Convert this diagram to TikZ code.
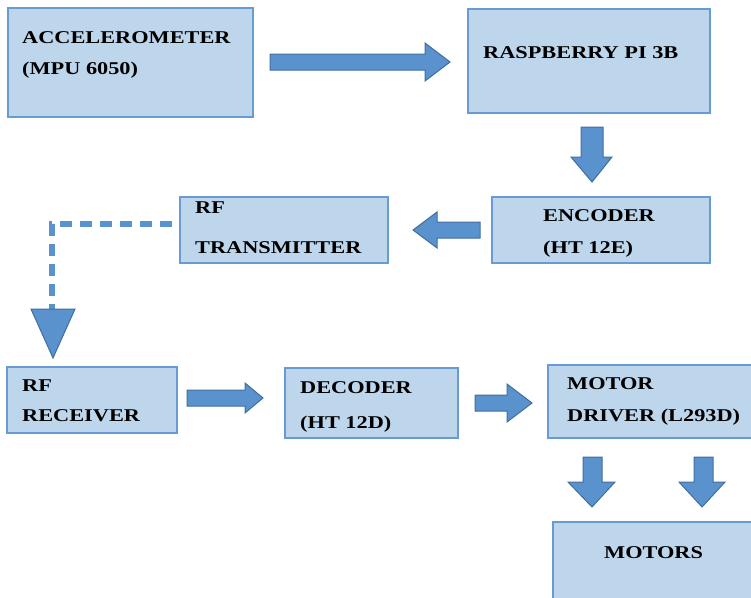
\documentclass[tikz,border=0pt]{standalone}
\usepackage{fontspec}
\newfontfamily\lblfont{Liberation Serif}[FakeStretch=1.24]
\begin{document}
\begin{tikzpicture}[x=1pt,y=-1pt,
  blockbox/.style={draw=boxline,fill=boxfill,line width=1.8pt},
  lbl/.style={anchor=base west,inner sep=0pt,font=\lblfont\bfseries\fontsize{18}{21}\selectfont,text=black},
  blockarrow/.style={draw=arrowline,fill=arrowfill,line width=1pt,line join=miter},
  linkline/.style={draw=arrowfill,line width=6pt,dash pattern=on 12pt off 8pt}]
\definecolor{boxfill}{RGB}{190,214,236}
\definecolor{boxline}{RGB}{104,155,210}
\definecolor{arrowfill}{RGB}{90,146,206}
\definecolor{arrowline}{RGB}{64,110,160}
\useasboundingbox (0,0) rectangle (751,597);

% boxes
\path[blockbox] (8,8) rectangle (253,117);
\node (acc) at (130,62) {};
\path[blockbox] (468,9) rectangle (710,113);
\node (rpi) at (589,61) {};
\path[blockbox] (492,197) rectangle (710,263);
\node (enc) at (601,230) {};
\path[blockbox] (180,197) rectangle (388,263);
\node (tx) at (284,230) {};
\path[blockbox] (7,367) rectangle (177,433);
\node (rx) at (92,400) {};
\path[blockbox] (285,368) rectangle (458,438);
\node (dec) at (371,403) {};
\path[blockbox] (548,365) rectangle (760,438);
\node (drv) at (650,401) {};
\path[blockbox] (553,522) rectangle (760,605);
\node (mot) at (650,560) {};

% labels
\node[lbl] (accA) at (22,43) {ACCELEROMETER};
\node[lbl] (accB) at (22,74) {(MPU 6050)};
\node[lbl] (rpiA) at (483,58) {RASPBERRY PI 3B};
\node[lbl] (encA) at (543,221) {ENCODER};
\node[lbl] (encB) at (543,253) {(HT 12E)};
\node[lbl] (txA) at (195,213) {RF};
\node[lbl] (txB) at (195,253) {TRANSMITTER};
\node[lbl] (rxA) at (22,391) {RF};
\node[lbl] (rxB) at (22,421) {RECEIVER};
\node[lbl] (decA) at (300,393) {DECODER};
\node[lbl] (decB) at (300,428) {(HT 12D)};
\node[lbl] (drvA) at (567,389) {MOTOR};
\node[lbl] (drvB) at (567,421) {DRIVER (L293D)};
\node[lbl] (motA) at (604,558) {MOTORS};

% block arrows
\path[blockarrow] (270,54) -- (425,54) -- (425,43) -- (450,62) -- (425,81) -- (425,70) -- (270,70) -- cycle;
\path[blockarrow] (581,127) -- (603,127) -- (603,157) -- (612,157) -- (592,182) -- (571,157) -- (581,157) -- cycle;
\path[blockarrow] (480,222) -- (437,222) -- (437,212) -- (413,230) -- (437,248) -- (437,238) -- (480,238) -- cycle;
\path[blockarrow] (187,390) -- (245,390) -- (245,383) -- (263,398) -- (245,413) -- (245,406) -- (187,406) -- cycle;
\path[blockarrow] (475,395) -- (507,395) -- (507,384) -- (532,403) -- (507,422) -- (507,411) -- (475,411) -- cycle;
\path[blockarrow] (583,457) -- (602,457) -- (602,482) -- (615,482) -- (592,507) -- (568,482) -- (583,482) -- cycle;
\path[blockarrow] (694,457) -- (713,457) -- (713,482) -- (725,482) -- (702,507) -- (679,482) -- (694,482) -- cycle;

% dashed radio link with triangular head
\coordinate (bend) at (52,224);
\coordinate (headtop) at (52,309);
\draw[linkline] (172,224) -- (bend) -- (headtop);
\path[blockarrow] (31,309) -- (75,309) -- (53,358) -- cycle;
\end{tikzpicture}
\end{document}
